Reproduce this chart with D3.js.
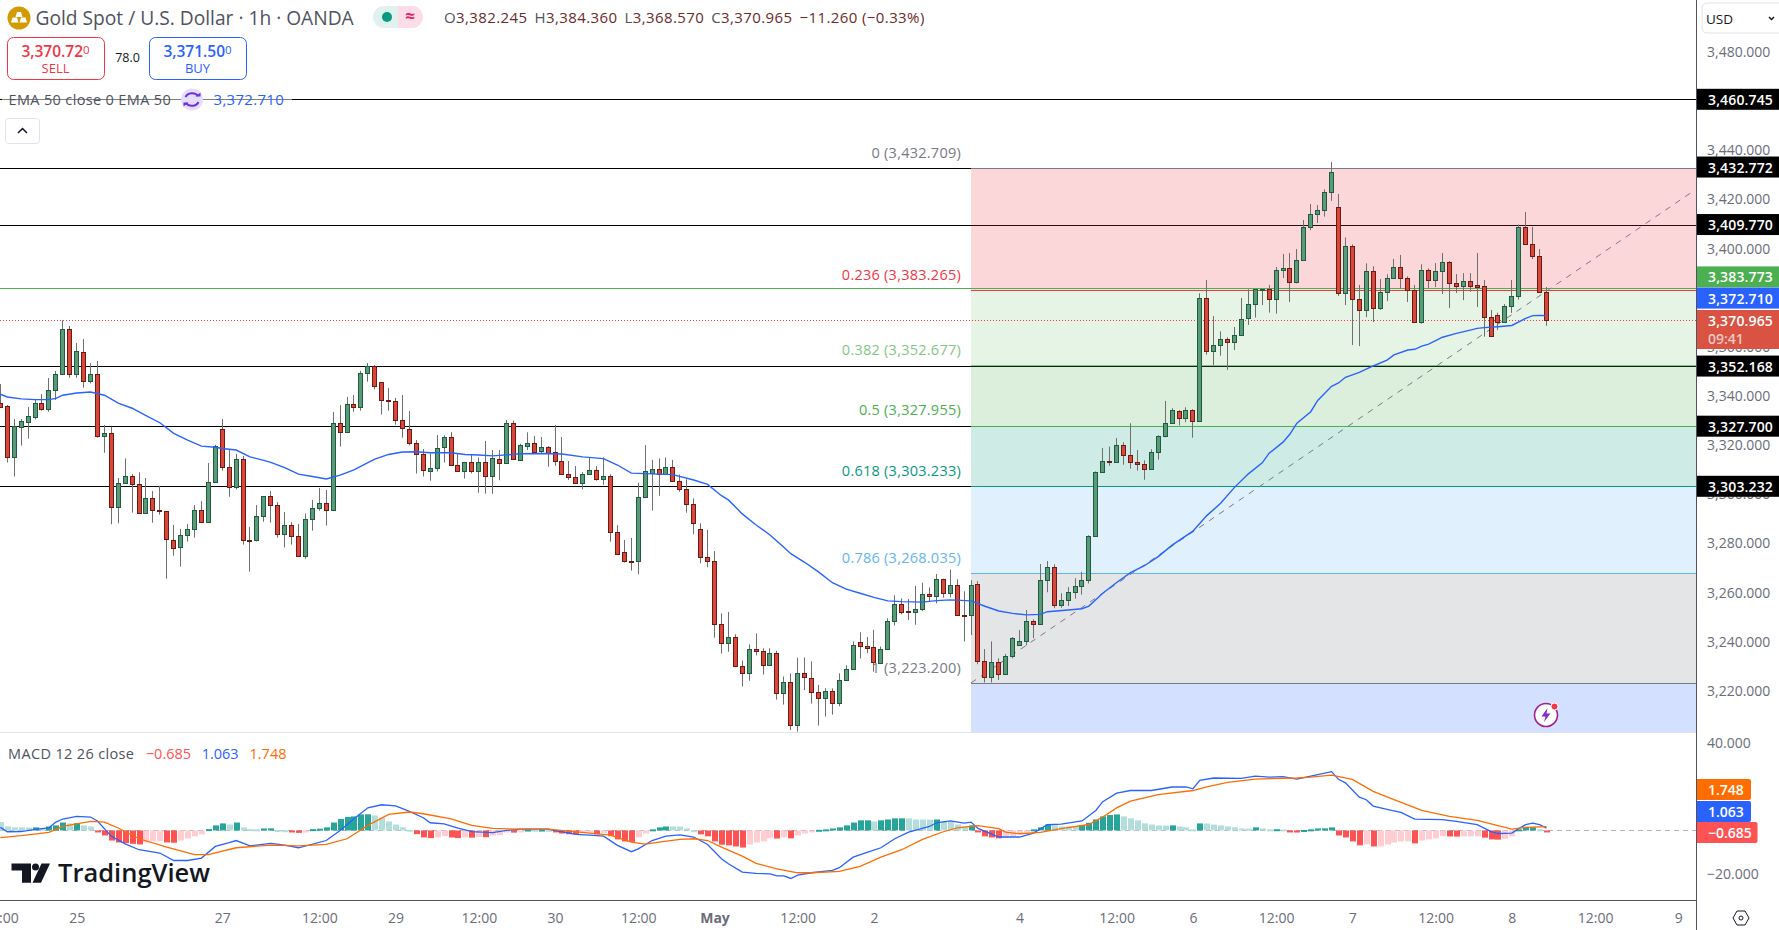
<!DOCTYPE html>
<html>
<head>
<meta charset="utf-8">
<script src="https://cdn.jsdelivr.net/npm/d3@7"></script>
<style>
    html, body { margin: 0; padding: 0; background: #fff; overflow: hidden; }
    svg { display: block; }
    text { font-family: "Open Sans", sans-serif; }
</style>
</head>
<body>
<div id="chart"></div>
<script>
// Values, one entry per hourly candle
const opens = [
    3337.0, 3335.8, 3315.3, 3327.5, 3329.5, 3331.6, 3337.0, 3334.8, 3342.3, 3348.8,
    3367.1, 3348.8, 3357.8, 3346.0, 3348.8, 3323.6, 3324.8, 3294.7, 3304.4, 3307.3,
    3304.0, 3292.2, 3298.3, 3293.5, 3293.1, 3281.2, 3278.4, 3283.3, 3285.7, 3293.5,
    3288.6, 3304.8, 3326.4, 3311.0, 3302.8, 3314.2, 3281.4, 3281.2, 3291.0, 3299.2,
    3295.5, 3283.7, 3287.3, 3282.9, 3274.7, 3289.8, 3294.3, 3296.3, 3293.5, 3328.9,
    3325.2, 3336.6, 3335.4, 3349.2, 3352.1, 3345.6, 3338.4, 3337.8, 3330.1, 3326.4,
    3320.7, 3316.2, 3309.3, 3310.5, 3319.1, 3323.2, 3311.8, 3309.3, 3313.0, 3309.3,
    3313.0, 3307.3, 3314.5, 3312.6, 3328.9, 3314.1, 3319.8, 3320.7, 3317.7, 3319.1,
    3317.1, 3313.4, 3308.1, 3306.9, 3304.7, 3308.1, 3309.7, 3306.1, 3307.3, 3284.5,
    3276.4, 3272.8, 3272.7, 3298.7, 3308.8, 3310.1, 3308.1, 3311.0, 3305.3, 3302.0,
    3295.9, 3285.7, 3274.3, 3273.0, 3247.1, 3239.3, 3241.8, 3230.0, 3227.1, 3236.9,
    3236.1, 3230.4, 3235.3, 3219.0, 3223.4, 3205.9, 3227.1, 3225.1, 3219.4, 3216.9,
    3219.8, 3214.9, 3224.3, 3228.7, 3239.7, 3238.1, 3237.7, 3231.2, 3236.9, 3248.3,
    3255.2, 3252.4, 3252.2, 3253.2, 3259.3, 3258.5, 3265.4, 3259.7, 3262.9, 3250.9,
    3250.7, 3263.3, 3232.0, 3225.5, 3231.6, 3226.7, 3234.0, 3238.5, 3240.1, 3248.3,
    3247.1, 3265.0, 3270.3, 3254.8, 3256.8, 3260.1, 3262.5, 3265.0, 3282.9, 3308.9,
    3313.5, 3313.0, 3319.9, 3315.8, 3313.0, 3312.2, 3310.1, 3317.1, 3323.6, 3328.9,
    3333.7, 3330.9, 3334.2, 3329.7, 3379.7, 3358.4, 3360.6, 3363.0, 3362.1, 3364.7,
    3371.6, 3377.3, 3383.3, 3383.4, 3379.3, 3391.1, 3391.9, 3386.2, 3395.2, 3408.6,
    3413.9, 3415.5, 3422.9, 3416.8, 3381.8, 3400.9, 3379.3, 3374.8, 3390.7, 3375.7,
    3382.2, 3387.9, 3392.3, 3387.9, 3383.0, 3370.0, 3391.1, 3387.1, 3390.7, 3394.4,
    3385.8, 3384.9, 3386.6, 3385.0, 3384.6, 3372.0, 3372.8, 3370.0, 3376.5, 3380.5,
    3408.6, 3402.0, 3396.8, 3382.245];
const highs = [
    3344.9, 3336.3, 3330.6, 3330.6, 3335.5, 3338.4, 3340.8, 3347.3, 3350.2, 3370.8,
    3368.5, 3361.6, 3363.2, 3353.3, 3354.2, 3328.2, 3327.5, 3306.6, 3314.6, 3308.2,
    3308.9, 3306.6, 3301.3, 3303.4, 3293.1, 3287.5, 3285.9, 3287.9, 3295.6, 3297.2,
    3312.7, 3320.1, 3330.6, 3318.0, 3316.4, 3315.6, 3286.7, 3295.6, 3299.2, 3301.3,
    3296.8, 3292.8, 3288.6, 3287.9, 3292.2, 3297.7, 3302.6, 3301.7, 3333.5, 3336.3,
    3339.6, 3340.4, 3350.2, 3353.4, 3352.6, 3345.6, 3343.2, 3339.2, 3340.4, 3333.9,
    3322.1, 3318.4, 3316.7, 3324.1, 3324.0, 3325.3, 3316.7, 3313.0, 3316.2, 3315.0,
    3321.7, 3318.0, 3318.0, 3330.2, 3330.0, 3320.5, 3325.2, 3323.7, 3323.3, 3319.6,
    3328.2, 3323.3, 3313.5, 3311.5, 3309.0, 3315.0, 3311.5, 3315.0, 3308.1, 3287.4,
    3281.4, 3282.2, 3304.7, 3320.0, 3314.0, 3314.6, 3315.0, 3314.0, 3308.0, 3306.1,
    3298.3, 3288.2, 3285.5, 3276.9, 3251.5, 3252.1, 3243.0, 3232.3, 3238.9, 3243.4,
    3237.3, 3237.3, 3236.3, 3225.8, 3227.1, 3233.5, 3233.6, 3232.0, 3222.4, 3221.0,
    3221.0, 3227.1, 3230.4, 3240.1, 3243.8, 3241.9, 3244.8, 3238.0, 3249.5, 3258.9,
    3257.6, 3257.4, 3262.7, 3264.0, 3262.1, 3267.5, 3265.6, 3269.4, 3265.4, 3260.5,
    3265.0, 3264.6, 3237.0, 3240.1, 3233.2, 3235.0, 3241.9, 3244.7, 3252.9, 3249.1,
    3271.6, 3272.8, 3271.5, 3259.7, 3262.2, 3265.8, 3268.4, 3283.3, 3309.3, 3318.8,
    3319.4, 3322.9, 3321.1, 3328.9, 3318.0, 3313.8, 3318.3, 3324.0, 3338.0, 3335.0,
    3334.2, 3335.4, 3334.6, 3381.8, 3387.2, 3372.5, 3366.3, 3363.9, 3368.1, 3379.9,
    3383.4, 3383.4, 3383.5, 3385.2, 3392.5, 3397.8, 3398.2, 3399.8, 3411.6, 3418.1,
    3417.7, 3424.1, 3435.2, 3422.2, 3404.5, 3401.7, 3385.2, 3394.0, 3392.8, 3387.6,
    3389.5, 3395.8, 3397.4, 3388.7, 3385.2, 3393.6, 3391.9, 3394.1, 3398.2, 3394.9,
    3389.6, 3390.0, 3390.0, 3398.2, 3387.2, 3375.0, 3373.9, 3377.4, 3387.2, 3409.8,
    3414.9, 3408.8, 3399.8, 3384.36];
const lows = [
    3335.6, 3312.9, 3307.2, 3319.8, 3322.6, 3330.5, 3334.0, 3333.6, 3338.4, 3348.8,
    3347.4, 3347.4, 3343.4, 3345.1, 3323.0, 3316.9, 3287.8, 3288.2, 3304.2, 3292.5,
    3292.2, 3292.2, 3288.4, 3291.7, 3265.6, 3275.0, 3270.5, 3280.7, 3282.3, 3288.6,
    3288.6, 3304.8, 3309.6, 3299.0, 3302.0, 3279.5, 3268.5, 3280.8, 3288.8, 3288.4,
    3282.3, 3278.3, 3279.5, 3274.7, 3273.8, 3285.2, 3293.3, 3287.2, 3293.5, 3319.4,
    3325.2, 3333.6, 3334.0, 3345.8, 3342.7, 3332.4, 3334.0, 3328.3, 3323.0, 3319.9,
    3308.4, 3307.2, 3305.5, 3309.3, 3312.9, 3311.8, 3309.3, 3306.4, 3308.5, 3300.6,
    3300.2, 3300.2, 3305.7, 3312.6, 3314.5, 3313.7, 3318.0, 3317.1, 3316.7, 3311.2,
    3311.6, 3308.1, 3305.8, 3304.4, 3302.0, 3308.1, 3305.5, 3303.8, 3280.7, 3275.5,
    3272.2, 3268.9, 3267.4, 3298.7, 3293.3, 3299.4, 3307.8, 3305.3, 3301.0, 3292.5,
    3283.7, 3271.9, 3270.3, 3241.6, 3235.1, 3235.9, 3229.6, 3221.7, 3224.1, 3234.4,
    3226.6, 3230.4, 3216.4, 3214.4, 3204.0, 3203.4, 3220.3, 3214.8, 3205.8, 3209.5,
    3210.3, 3213.7, 3224.3, 3228.7, 3233.2, 3235.3, 3227.8, 3231.2, 3236.9, 3246.6,
    3251.1, 3248.8, 3246.9, 3252.4, 3256.3, 3255.6, 3257.9, 3258.0, 3250.7, 3240.1,
    3242.7, 3230.8, 3223.4, 3223.4, 3224.4, 3226.7, 3233.2, 3238.5, 3238.5, 3241.4,
    3247.1, 3260.1, 3253.6, 3253.8, 3254.5, 3257.5, 3259.1, 3263.7, 3282.9, 3308.9,
    3311.6, 3313.0, 3312.0, 3310.4, 3309.6, 3305.9, 3310.1, 3314.1, 3323.2, 3328.9,
    3328.0, 3329.3, 3323.0, 3329.7, 3356.8, 3352.6, 3356.4, 3350.6, 3358.7, 3364.7,
    3368.9, 3371.9, 3377.0, 3373.9, 3373.5, 3388.0, 3378.2, 3385.8, 3395.2, 3407.5,
    3410.4, 3413.0, 3419.4, 3380.7, 3377.0, 3360.7, 3360.3, 3372.1, 3370.1, 3375.0,
    3378.6, 3387.9, 3383.8, 3378.2, 3370.0, 3369.4, 3383.8, 3384.3, 3381.5, 3375.8,
    3381.9, 3379.0, 3382.4, 3376.2, 3364.1, 3364.3, 3366.8, 3370.0, 3373.8, 3379.2,
    3402.0, 3395.7, 3382.2, 3368.57];
const closes = [
    3335.6, 3315.3, 3327.6, 3329.7, 3331.7, 3337.0, 3334.8, 3342.3, 3348.8, 3367.1,
    3348.8, 3358.2, 3346.0, 3348.8, 3323.6, 3324.8, 3294.7, 3304.4, 3307.3, 3304.0,
    3292.2, 3298.3, 3293.5, 3293.1, 3281.7, 3278.0, 3283.3, 3285.7, 3293.5, 3288.6,
    3304.8, 3319.5, 3311.0, 3302.8, 3314.2, 3281.2, 3281.1, 3291.0, 3299.2, 3295.5,
    3283.7, 3287.3, 3282.9, 3274.7, 3289.8, 3294.3, 3296.3, 3293.5, 3328.9, 3325.2,
    3336.6, 3335.4, 3349.2, 3352.1, 3343.9, 3338.2, 3338.1, 3330.1, 3326.8, 3320.7,
    3316.2, 3309.7, 3310.5, 3318.7, 3323.2, 3311.8, 3309.3, 3313.0, 3309.3, 3313.0,
    3307.3, 3314.6, 3312.6, 3328.9, 3314.5, 3319.9, 3320.7, 3317.1, 3319.1, 3316.9,
    3313.4, 3308.1, 3306.9, 3304.7, 3308.1, 3309.7, 3306.1, 3307.3, 3284.5, 3275.8,
    3272.7, 3272.6, 3298.7, 3309.3, 3310.1, 3308.1, 3311.0, 3305.3, 3302.0, 3295.9,
    3288.2, 3274.3, 3273.0, 3247.1, 3239.3, 3241.8, 3230.0, 3227.1, 3236.9, 3236.1,
    3230.4, 3235.3, 3219.0, 3223.4, 3205.9, 3227.1, 3225.5, 3219.4, 3216.9, 3219.8,
    3214.9, 3224.3, 3228.7, 3238.5, 3238.1, 3237.6, 3231.6, 3236.9, 3248.3, 3255.2,
    3252.0, 3252.1, 3253.2, 3259.3, 3258.5, 3265.4, 3259.7, 3262.9, 3250.7, 3250.6,
    3262.9, 3232.0, 3225.5, 3231.6, 3226.9, 3234.0, 3241.4, 3240.1, 3248.3, 3247.1,
    3265.0, 3270.3, 3254.8, 3256.8, 3260.1, 3262.5, 3265.0, 3282.9, 3308.9, 3313.4,
    3313.3, 3319.9, 3315.8, 3313.0, 3312.2, 3310.1, 3317.1, 3323.6, 3328.9, 3334.2,
    3330.9, 3334.2, 3329.7, 3379.7, 3358.4, 3360.6, 3363.0, 3362.1, 3364.7, 3371.2,
    3377.3, 3383.4, 3383.5, 3379.3, 3391.1, 3391.9, 3386.2, 3395.2, 3408.6, 3413.9,
    3415.5, 3422.9, 3431.0, 3381.8, 3400.9, 3379.3, 3374.8, 3390.7, 3375.7, 3382.2,
    3387.9, 3392.3, 3387.9, 3383.0, 3370.0, 3391.1, 3387.1, 3390.7, 3394.4, 3385.8,
    3384.9, 3386.6, 3384.9, 3384.5, 3372.0, 3364.3, 3370.0, 3376.5, 3380.5, 3408.6,
    3402.0, 3396.8, 3382.2, 3370.965];

// EMA 50, read at the candle indexes where the curve bends
const emaIdx = [0, 1, 3, 5, 7, 8, 9, 11, 13, 15, 17, 19, 21, 23, 25, 27, 29, 31, 32, 34, 36, 38, 39, 41, 43, 45, 47, 49, 51, 53, 54, 56, 58, 60, 62, 65, 67, 69, 71,
    72, 75, 78, 81, 84, 87, 89, 91, 93, 97, 100, 102, 104, 105, 107, 109, 111, 113, 114, 116, 118, 120, 122, 124, 126, 128, 130, 133, 135, 137, 140, 142, 144,
    146, 148, 150, 151, 154, 156, 157, 159, 161, 163, 165, 167, 169, 172, 174, 176, 178, 180, 182, 183, 185, 186, 187, 189, 190, 192, 193, 194, 196, 198, 200, 201, 203, 204, 205, 206, 208, 210, 212, 213, 214, 216, 218, 220, 221, 222, 223];
const emaVals = [3340.7, 3339.6, 3338.8, 3338.5, 3338.5, 3339.0, 3340.3, 3341.2, 3341.6, 3340.3, 3337.1, 3335.0, 3332.0, 3329.1, 3324.8, 3322.0, 3319.6, 3319.1, 3318.6, 3318.0, 3315.2, 3313.8, 3313.0, 3310.8, 3308.2, 3307.2, 3306.2, 3307.8, 3309.9, 3312.9, 3314.3, 3316.2, 3317.2, 3317.3, 3316.9, 3316.9, 3316.2, 3316.0, 3315.6,
    3315.8, 3316.5, 3316.6, 3316.4, 3315.2, 3314.5, 3311.9, 3308.6, 3308.4, 3308.0, 3305.8, 3304.0, 3299.4, 3297.7, 3292.0, 3287.5, 3283.4, 3278.4, 3275.8, 3272.3, 3268.4, 3264.0, 3261.4, 3259.7, 3258.0, 3256.6, 3256.3, 3256.1, 3256.7, 3257.0, 3256.6, 3254.4, 3252.5,
    3251.5, 3250.9, 3251.1, 3252.2, 3252.9, 3253.4, 3254.5, 3259.7, 3264.1, 3268.1, 3270.9, 3274.6, 3279.3, 3285.0, 3291.3, 3296.3, 3302.8, 3308.3, 3312.8, 3316.7, 3321.2, 3324.5, 3328.9, 3333.6, 3338.2, 3343.9, 3345.3, 3347.6, 3349.6, 3352.2, 3354.6, 3356.7, 3358.7, 3359.0, 3360.3, 3361.1, 3363.9, 3365.5, 3366.8, 3367.5, 3367.8, 3368.2, 3368.7, 3371.6, 3372.7, 3372.8, 3372.71];

// MACD histogram, one bar per candle
const histVals = [
    3.8, 1.8, 1.4, 1.35, 1.3, 1.4, 1.1, 1.8, 2.3, 3.6,
    3.2, 3.3, 2.3, 1.8, -0.8, -2.3, -4.6, -5.5, -5.8, -6.1,
    -6.4, -5.5, -5.0, -4.9, -5.5, -5.6, -4.6, -3.7, -2.7, -1.8,
    0.6, 2.3, 3.2, 2.7, 3.6, 1.4, 0.6, 0.5, 0.9, 0.95,
    0.2, 0.1, -0.8, -1.1, -0.6, 0.6, 0.8, 1.4, 3.6, 5.2,
    6.1, 6.4, 7.3, 7.35, 6.8, 5.8, 4.1, 2.7, 1.4, 0.3,
    -1.7, -3.2, -3.5, -3.2, -2.6, -3.2, -3.5, -3.2, -3.3, -3.0,
    -3.1, -2.3, -2.2, -0.9, -1.0, -0.4, 0.4, 0.35, 0.4, 0.3,
    -0.9, -1.4, -1.7, -1.8, -1.0, -0.9, -1.8, -1.2, -2.6, -4.1,
    -5.0, -5.2, -3.2, -1.4, 0.5, 1.4, 1.8, 1.79, 1.78, 0.9,
    0.1, -1.8, -2.7, -5.0, -6.5, -6.8, -7.3, -7.8, -6.4, -5.5,
    -5.0, -3.6, -3.7, -3.2, -3.6, -2.3, -1.4, -0.9, 0.3, 0.5,
    0.9, 1.4, 2.3, 3.6, 4.6, 4.61, 4.1, 4.6, 5.0, 5.5,
    5.51, 5.5, 5.0, 4.95, 4.9, 5.0, 4.2, 4.1, 2.7, 1.8,
    2.3, -0.9, -2.7, -3.2, -3.6, -3.2, -2.7, -1.5, -0.9, 0.5,
    1.4, 2.7, 2.3, 1.85, 1.8, 1.75, 2.3, 3.5, 5.0, 6.4,
    7.0, 7.3, 6.4, 5.5, 4.6, 3.2, 2.7, 2.3, 2.25, 2.3,
    1.8, 1.4, 0.5, 3.2, 3.15, 2.7, 2.3, 1.8, 1.4, 0.9,
    0.85, 1.4, 0.9, 0.5, 0.55, 0.45, -0.9, -0.95, 0.2, 0.5,
    0.9, 0.95, 1.4, -2.3, -3.2, -5.0, -6.8, -6.4, -7.3, -7.25,
    -6.4, -5.5, -5.0, -4.95, -5.9, -4.6, -4.1, -3.6, -2.7, -2.75,
    -2.8, -2.75, -2.7, -2.65, -3.3, -4.1, -4.2, -3.8, -2.7, 0.5,
    1.4, 1.45, 0.5, -0.685];

const macdIdx = [0, 1, 3, 5, 7, 8, 9, 11, 13, 14, 16, 18, 20, 23, 25, 27, 29, 31, 33, 34, 36, 39, 41, 43, 47, 49, 51, 53, 55, 57, 59, 61, 62, 64, 66, 68, 71, 73, 75, 79, 81, 83, 85, 87, 89, 91, 92, 94, 96, 98, 100, 102, 104, 105, 107, 109, 111, 112, 113, 114, 115, 117, 120, 121, 123, 125, 127, 129, 131, 134, 135, 137, 139, 140, 141, 144, 147, 149, 151, 153, 156, 158, 159, 161, 163, 166, 169, 171, 172, 173, 175, 179, 181, 183, 185, 187, 189, 192, 193, 194, 196, 197, 198, 200, 202, 204, 208, 210, 213, 215, 216, 218, 219, 220, 221, 222, 223];
const macdVals = [1.4, -0.6, -0.5, 0.5, 1.2, 3.8, 5.2, 6.4, 6.1, 4.3, -2.7, -6.1, -8.8, -10.3, -13.7, -13.7, -12.6, -7.3, -5.6, -4.6, -7.0, -5.9, -6.7, -7.9, -4.6, 0, 5.3, 10.3, 11.7, 11.2, 8.7, 5.8, 3.5, 3.0, 1.1, -0.5, -1.0, 0, 0.6, 0.6, -0.6, -1.8, -2.1, -2.6, -6.8, -9.7, -8.4, -4.6, -2.6, -2.0, -3.0, -6.4, -12.9, -15.2, -19.0, -19.6, -19.8, -20.7, -20.7, -21.9, -20.4, -19.3, -18.2, -17.0, -12.2, -10.0, -7.9, -3.8, -0.8, 1.8, 3.5, 4.4, 3.3, 3.8, 0.9, -3.0, -3.0, -1.2, 2.6, 2.9, 4.3, 9.1, 13.1, 17.0, 18.2, 18.2, 19.8, 19.9, 19.0, 22.8, 23.9, 23.7, 24.8, 24.3, 24.5, 23.4, 24.8, 26.8, 23.3, 21.7, 15.2, 14.0, 11.1, 9.6, 8.2, 5.2, 4.9, 4.1, 2.6, -0.5, -1.4, -1.2, 0.8, 2.6, 3.3, 2.6, 1.063];
const signalIdx = [0, 3, 7, 9, 13, 15, 17, 20, 24, 28, 30, 34, 39, 43, 47, 50, 53, 56, 59, 61, 65, 68, 71, 75, 79, 82, 85, 88, 91, 93, 95, 98, 100, 102, 104, 107, 109, 112, 115, 117, 121, 124, 127, 130, 133, 136, 138, 141, 144, 145, 147, 150, 153, 157, 159, 161, 163, 167, 172, 174, 177, 181, 187, 189, 192, 195, 198, 201, 205, 209, 213, 216, 218, 220, 223];
const signalVals = [-3.3, -2.4, -0.9, 1.8, 4.1, 3.8, 1.1, -3.8, -7.6, -11.0, -11.0, -7.9, -6.7, -7.0, -6.4, -3.8, 2.3, 7.3, 8.4, 7.6, 5.3, 2.3, 0.9, 0.6, 0.6, -0.3, -1.2, -2.1, -5.3, -6.2, -5.3, -4.1, -3.8, -4.6, -7.6, -11.7, -15.0, -17.5, -19.3, -19.3, -18.7, -16.4, -12.2, -8.8, -4.1, -0.6, 1.2, 2.2, 0.8, -0.8, -1.5, -0.9, 0.8, 2.7, 6.1, 10.3, 13.4, 16.3, 18.2, 19.9, 21.9, 23.4, 23.9, 24.3, 25.2, 23.3, 17.8, 14.0, 9.1, 6.4, 4.6, 2.2, 0.6, 1.4, 1.748];

// horizontal rays drawn across the whole chart
const rayLevels = [3460.745, 3432.772, 3409.770, 3352.168, 3327.700, 3303.232];
const greenRay = 3383.773;
const lastPrice = 3370.965;
const lastEma = 3372.710;

// fib retracement
const fibLevels = ['0', '0.236', '0.382', '0.5', '0.618', '0.786', '1'];
const fibPrices = [3432.709, 3383.265, 3352.677, 3327.955, 3303.233, 3268.035, 3223.200];
const fibColors = ['#787b86', '#f23645', '#81c784', '#4caf50', '#089981', '#64b5f6', '#787b86'];
const fibBelowColor = '#2962ff';
const fibStartIdx = 140;
const trendIdx = [140, 244.4];
const trendVals = [3223.2, 3423.8];

const priceTicks = [3480, 3460, 3440, 3420, 3400, 3380, 3360, 3340, 3320, 3300, 3280, 3260, 3240, 3220];
const macdTicks = [40, 20, 0, -20];
const timeIdx = [0, 11, 32, 46, 57, 69, 80, 92, 103, 115, 126, 147, 161, 172, 184, 195, 207, 218, 230, 242];
const timeLabels = ['12:00', '25', '27', '12:00', '29', '12:00', '30', '12:00', 'May', '12:00', '2', '4', '12:00', '6', '12:00', '7', '12:00', '8', '12:00', '9'];

const width = 1779, height = 930;
const axisX = 1696.5, paneBottom = 732, macdBottom = 900;
const FONT = '"Open Sans", sans-serif';

const x = d3.scaleLinear().domain([0, 223]).range([0.4, 1546.5]);
const y = d3.scaleLinear().domain([3460.745, 3303.232]).range([99.3, 486.3]);
const yMacd = d3.scaleLinear().domain([40, -20]).range([742.7, 874.3]);
const crisp = v => Math.round(v) + 0.5;

const svg = d3.select('#chart').append('svg').attr('width', width).attr('height', height);
const defs = svg.append('defs');
defs.append('clipPath').attr('id', 'price-clip').append('rect')
    .attr('x', 0).attr('y', 0).attr('width', axisX).attr('height', paneBottom);
defs.append('clipPath').attr('id', 'macd-clip').append('rect')
    .attr('x', 0).attr('y', paneBottom + 1).attr('width', axisX).attr('height', macdBottom - paneBottom - 1);

let pricePane = svg.append('g').attr('clip-path', 'url(#price-clip)');

// Rays sit below the fib fill
pricePane.append('g').selectAll('line').data(rayLevels).join('line')
    .attr('x1', 0).attr('x2', axisX)
    .attr('y1', d => crisp(y(d))).attr('y2', d => crisp(y(d)))
    .attr('stroke', '#000').attr('stroke-width', 1);

// Fib bands take the colour of their lower level, the last one runs down to the pane bottom
let fibX = x(fibStartIdx);
let bands = pricePane.append('g');
fibPrices.forEach((p, i) => {
    let next = i < fibPrices.length - 1 ? y(fibPrices[i + 1]) : paneBottom;
    bands.append('rect')
        .attr('x', fibX).attr('width', axisX - fibX)
        .attr('y', y(p)).attr('height', next - y(p))
        .attr('fill', i < fibPrices.length - 1 ? fibColors[i + 1] : fibBelowColor)
        .attr('fill-opacity', 0.2);
});
pricePane.append('line')
    .attr('x1', 0).attr('x2', axisX)
    .attr('y1', crisp(y(greenRay))).attr('y2', crisp(y(greenRay)))
    .attr('stroke', '#4caf50');
pricePane.append('g').selectAll('line').data(fibPrices).join('line')
    .attr('x1', fibX).attr('x2', axisX)
    .attr('y1', d => crisp(y(d))).attr('y2', d => crisp(y(d)))
    .attr('stroke', (d, i) => fibColors[i]);

// Fib labels, under the candles
let fmtPrice = d3.format(',.3f');
pricePane.append('g').selectAll('text').data(fibPrices).join('text')
    .attr('x', 961).attr('y', d => y(d) - 14)
    .attr('text-anchor', 'end')
    .attr('dominant-baseline', 'middle')
    .attr('font-size', 14.5)
    .attr('letter-spacing', 0.25)
    .attr('fill', (d, i) => fibColors[i])
    .text((d, i) => `${fibLevels[i]} (${fmtPrice(d)})`);

// Dashed trend line of the fib
let trendData = trendIdx.map((d, i) => [x(d), y(trendVals[i])]);
pricePane.append('path')
    .attr('d', d3.line()(trendData))
    .attr('fill', 'none').attr('stroke', '#787b86')
    .attr('stroke-dasharray', '6 6');

// Last price dotted line
pricePane.append('line')
    .attr('x1', 0).attr('x2', axisX)
    .attr('y1', crisp(y(lastPrice))).attr('y2', crisp(y(lastPrice)))
    .attr('stroke', '#f23645').attr('stroke-dasharray', '1 2');

// Candles
let candles = pricePane.append('g').selectAll('g').data(closes).join('g');
candles.append('line')
    .attr('x1', (d, i) => Math.floor(x(i)) + 0.5).attr('x2', (d, i) => Math.floor(x(i)) + 0.5)
    .attr('y1', (d, i) => y(highs[i])).attr('y2', (d, i) => y(lows[i]))
    .attr('stroke', '#6f6f6f');
candles.append('rect')
    .attr('x', (d, i) => Math.floor(x(i)) - 1.5)
    .attr('width', 4)
    .attr('y', (d, i) => crisp(y(Math.max(d, opens[i]))))
    .attr('height', (d, i) => Math.max(1, crisp(y(Math.min(d, opens[i]))) - crisp(y(Math.max(d, opens[i])))))
    .attr('fill', (d, i) => d >= opens[i] ? '#5b9a78' : '#d8483a')
    .attr('stroke', (d, i) => d >= opens[i] ? '#1d5c3e' : '#6e1a12');

// EMA 50
pricePane.append('path')
    .attr('d', d3.line().x(d => x(d)).y((d, i) => y(emaVals[i]))(emaIdx))
    .attr('fill', 'none').attr('stroke', '#2962ff').attr('stroke-width', 1.4);

// Pane separators
svg.append('line').attr('x1', 0).attr('x2', axisX).attr('y1', paneBottom + 0.5).attr('y2', paneBottom + 0.5).attr('stroke', '#e0e3eb');

// MACD pane
let macdPane = svg.append('g').attr('clip-path', 'url(#macd-clip)');
macdPane.append('line')
    .attr('x1', 0).attr('x2', axisX)
    .attr('y1', crisp(yMacd(0))).attr('y2', crisp(yMacd(0)))
    .attr('stroke', '#b2b5be').attr('stroke-dasharray', '5 4');
let histColor = (d, i) => {
    let rising = i > 0 && d > histVals[i - 1];
    if (d >= 0) return rising ? '#26a69a' : '#b2dfdb';
    return rising ? '#ffcdd2' : '#ff5252';
};
macdPane.append('g').selectAll('rect').data(histVals).join('rect')
    .attr('x', (d, i) => Math.floor(x(i)) - 2.5 + 0.5)
    .attr('width', 6)
    .attr('y', d => d >= 0 ? yMacd(d) : yMacd(0))
    .attr('height', d => Math.max(2, Math.abs(yMacd(d) - yMacd(0))))
    .attr('fill', histColor);
macdPane.append('path')
    .attr('d', d3.line().x(d => x(d)).y((d, i) => yMacd(macdVals[i]))(macdIdx))
    .attr('fill', 'none').attr('stroke', '#2962ff').attr('stroke-width', 1.3);
macdPane.append('path')
    .attr('d', d3.line().x(d => x(d)).y((d, i) => yMacd(signalVals[i]))(signalIdx))
    .attr('fill', 'none').attr('stroke', '#ff6d00').attr('stroke-width', 1.3);

// Axes
let priceAxis = svg.append('g').attr('transform', `translate(${axisX},0)`)
    .call(d3.axisRight(y).tickValues(priceTicks).tickFormat(fmtPrice).tickSize(0).tickPadding(10.5));
let macdAxis = svg.append('g').attr('transform', `translate(${axisX},0)`)
    .call(d3.axisRight(yMacd).tickValues(macdTicks).tickFormat(d => d3.format('.3f')(d).replace('-', '−')).tickSize(0).tickPadding(10.5));
let timeAxis = svg.append('g').attr('transform', `translate(0,${macdBottom})`)
    .call(d3.axisBottom(x).tickValues(timeIdx).tickFormat((d, i) => timeLabels[i]).tickSize(0).tickPadding(13));
[priceAxis, macdAxis, timeAxis].forEach(a => {
    a.select('.domain').remove();
    a.selectAll('text').attr('font-family', FONT).attr('font-size', 14).attr('fill', '#6a6d78');
});
timeAxis.selectAll('text').filter(function () { return d3.select(this).text() === 'May'; }).attr('font-weight', 700);

svg.append('line').attr('x1', 0).attr('x2', axisX).attr('y1', macdBottom + 0.5).attr('y2', macdBottom + 0.5).attr('stroke', '#50535e');
svg.append('line').attr('x1', axisX).attr('x2', axisX).attr('y1', 0).attr('y2', height).attr('stroke', '#50535e');

// Price tags on the right axis, y is the label centre
const tagValues = [3460.745, 3432.772, 3409.770, 3383.773, 3372.710, 3352.168, 3327.700, 3303.232];
const tagFills = ['#000', '#000', '#000', '#4caf50', '#2962ff', '#000', '#000', '#000'];
const tagOffsets = [0, -1, 0, -11.5, -17.5, 0, 0, 0];
let tags = svg.append('g').selectAll('g').data(tagValues).join('g')
    .attr('transform', (d, i) => `translate(${axisX + 0.5},${y(d) + tagOffsets[i]})`);
tags.append('rect').attr('x', 0).attr('y', -10.5).attr('width', 82).attr('height', 21)
    .attr('fill', (d, i) => tagFills[i]);
tags.append('text').attr('x', 11).attr('y', 0).attr('dominant-baseline', 'central')
    .attr('font-size', 14).attr('font-weight', 600).attr('letter-spacing', 0.15).attr('fill', '#fff').text(d => fmtPrice(d));

// Last price tag with countdown
let lastTag = svg.append('g').attr('transform', `translate(${axisX + 0.5},310)`);
lastTag.append('rect').attr('width', 82).attr('height', 39).attr('fill', '#d95242');
lastTag.append('text').attr('x', 11).attr('y', 10.5).attr('dominant-baseline', 'central')
    .attr('font-size', 14).attr('font-weight', 600).attr('letter-spacing', 0.15).attr('fill', '#fff').text(fmtPrice(lastPrice));
lastTag.append('text').attr('x', 11).attr('y', 28.5).attr('dominant-baseline', 'central')
    .attr('font-size', 14).attr('font-weight', 600).attr('fill', '#fff').attr('fill-opacity', 0.7).text('09:41');

// MACD tags
const macdTagVals = [1.748, 1.063, -0.685];
const macdTagFills = ['#ff6d00', '#2962ff', '#ff5252'];
const macdTagY = [789.5, 811.5, 832.5];
const macdTagW = [54, 54, 60.5];
macdTagVals.forEach((v, i) => {
    let g = svg.append('g').attr('transform', `translate(${axisX + 0.5},${macdTagY[i]})`);
    g.append('path')
        .attr('d', `M0,-10.5 H${macdTagW[i] - 2} a2,2 0 0 1 2,2 V8.5 a2,2 0 0 1 -2,2 H0 Z`)
        .attr('fill', macdTagFills[i]);
    g.append('text').attr('x', 11).attr('y', 0).attr('dominant-baseline', 'central')
        .attr('font-size', 14).attr('font-weight', 600).attr('fill', '#fff')
        .text(d3.format('.3f')(v).replace('-', '−'));
});

// Header: symbol line
let logo = svg.append('g').attr('transform', 'translate(19,18)');
logo.append('circle').attr('r', 11.5).attr('fill', '#d49b00');
[[-3.5, -6, 7], [-8, -0.5, 7.5], [0.5, -0.5, 7.5]].forEach(b => {
    logo.append('path')
        .attr('d', `M${b[0] + 1.5},${b[1]} h${b[2] - 3} l1.5,5 h-${b[2]} Z`)
        .attr('fill', '#fff');
});
svg.append('text').attr('x', 35.5).attr('y', 24.5)
    .attr('font-size', 19.2).attr('fill', '#50535e')
    .text('Gold Spot / U.S. Dollar · 1h · OANDA');

let pill = svg.append('g');
pill.append('path').attr('d', 'M398,6 H384 a11,11 0 0 0 0,22 H398 Z').attr('fill', '#dff2ee');
pill.append('path').attr('d', 'M398,6 H412 a11,11 0 0 1 0,22 H398 Z').attr('fill', '#fcdde7');
pill.append('circle').attr('cx', 387).attr('cy', 17).attr('r', 5).attr('fill', '#089981');
pill.append('text').attr('x', 410).attr('y', 22).attr('text-anchor', 'middle')
    .attr('font-size', 17).attr('font-weight', 700).attr('fill', '#e91e63').text('≈');

const ohlcLabels = ['O', 'H', 'L', 'C'];
const ohlcValues = [3382.245, 3384.360, 3368.570, 3370.965];
let ohlc = svg.append('text').attr('x', 444).attr('y', 23).attr('font-size', 15)
    .attr('letter-spacing', 0.4).attr('fill', '#6e2a2a');
ohlcLabels.forEach((l, i) => {
    ohlc.append('tspan').attr('dx', i ? 7 : 0).attr('fill', '#50535e').text(l);
    ohlc.append('tspan').text(fmtPrice(ohlcValues[i]));
});
ohlc.append('tspan').attr('dx', 7).text('−11.260 (−0.33%)');

// Sell / buy buttons
function tradeBox(bx, w, color, price, small, label) {
    let g = svg.append('g');
    g.append('rect').attr('x', bx + 0.5).attr('y', 37.5).attr('width', w).attr('height', 42)
        .attr('rx', 6).attr('fill', '#fff').attr('stroke', color);
    let t = g.append('text').attr('x', bx + w / 2).attr('y', 56.5).attr('text-anchor', 'middle')
        .attr('font-size', 15.5).attr('font-weight', 600).attr('fill', color).text(price);
    t.append('tspan').attr('font-size', 11.5).attr('dy', -3).attr('font-weight', 400).text(small);
    g.append('text').attr('x', bx + w / 2).attr('y', 72.5).attr('text-anchor', 'middle')
        .attr('font-size', 13).attr('fill', color).text(label);
}
tradeBox(7, 97, '#f23645', '3,370.72', '0', 'SELL');
tradeBox(149, 97, '#2962ff', '3,371.50', '0', 'BUY');
svg.append('text').attr('x', 127.5).attr('y', 62).attr('text-anchor', 'middle')
    .attr('font-size', 12.5).attr('fill', '#131722').text('78.0');

// EMA legend over the first ray
svg.append('rect').attr('x', 2).attr('y', 89).attr('width', 290).attr('height', 21)
    .attr('fill', '#fff').attr('fill-opacity', 0.5);
svg.append('text').attr('x', 8.5).attr('y', 104.5)
    .attr('font-size', 14.5).attr('letter-spacing', 0.35).attr('fill', '#50535e').text('EMA 50 close 0 EMA 50');
svg.append('circle').attr('cx', 192).attr('cy', 99.5).attr('r', 11).attr('fill', '#e6dcfb');
svg.append('path').attr('d', 'M185.5,97 a7,6 0 0 1 12.5,-1 M198.5,102 a7,6 0 0 1 -12.5,1')
    .attr('fill', 'none').attr('stroke', '#6a2fe0').attr('stroke-width', 2);
svg.append('path').attr('d', 'M195.5,96.5 l5,0 l0,-4 Z M188.5,102.5 l-5,0 l0,4 Z').attr('fill', '#6a2fe0');
svg.append('text').attr('x', 213.5).attr('y', 104.5)
    .attr('font-size', 15).attr('letter-spacing', 0.3).attr('fill', '#2962ff').text(fmtPrice(lastEma));

// Collapse button
svg.append('rect').attr('x', 5.5).attr('y', 118.5).attr('width', 34).attr('height', 25)
    .attr('rx', 3).attr('fill', '#fff').attr('stroke', '#e0e3eb');
svg.append('path').attr('d', 'M18,133 l4.5,-4.5 l4.5,4.5').attr('fill', 'none').attr('stroke', '#131722').attr('stroke-width', 1.5);

// Currency button
svg.append('rect').attr('x', 1702).attr('y', 3).attr('width', 90).attr('height', 30)
    .attr('rx', 5).attr('fill', '#fff').attr('stroke', '#e0e3eb');
svg.append('text').attr('x', 1706).attr('y', 24).attr('font-size', 13.5).attr('fill', '#131722').text('USD');
svg.append('path').attr('d', 'M1769,17 l2.5,2.5 l2.5,-2.5').attr('fill', 'none').attr('stroke', '#131722').attr('stroke-width', 1.5);

// MACD legend
svg.append('text').attr('x', 8).attr('y', 759).attr('font-size', 14.5).attr('letter-spacing', 0.35).attr('fill', '#50535e').text('MACD 12 26 close');
const macdLegendX = [145.8, 201.7, 249.5];
const macdLegendVals = ['−0.685', '1.063', '1.748'];
const macdLegendColors = ['#ff5252', '#2962ff', '#ff6d00'];
macdLegendVals.forEach((v, i) => {
    svg.append('text').attr('x', macdLegendX[i]).attr('y', 759).attr('font-size', 14.5)
        .attr('fill', macdLegendColors[i]).text(v);
});

// TradingView watermark
let tv = svg.append('g').attr('fill', '#131722');
tv.append('path').attr('d', 'M11.5,863.5 H31 V882.7 H22 V870.5 H11.5 Z');
tv.append('circle').attr('cx', 35.5).attr('cy', 867).attr('r', 3.5);
tv.append('path').attr('d', 'M41.5,863.5 H50 L41,882.7 H32.5 Z');
tv.append('text').attr('x', 58).attr('y', 882).attr('font-family', 'Inter, sans-serif')
    .attr('font-size', 25.5).attr('font-weight', 600).text('TradingView');

// Alert bolt icon
let bolt = svg.append('g').attr('transform', 'translate(1546,715)');
bolt.append('circle').attr('r', 11.5).attr('fill', '#fff').attr('stroke', '#a3218f').attr('stroke-width', 1.6);
bolt.append('path').attr('d', 'M1.5,-7 L-4.5,1.5 H-0.5 L-2,7 L4.5,-1.5 H0.5 Z').attr('fill', '#7b2fd0');
bolt.append('circle').attr('cx', 8.5).attr('cy', -8.5).attr('r', 3.5).attr('fill', '#f23645').attr('stroke', '#fff');

// Settings icon
svg.append('path').attr('d', 'M1733,918 l4,-7 h8 l4,7 l-4,7 h-8 Z').attr('fill', 'none').attr('stroke', '#131722');
svg.append('circle').attr('cx', 1741).attr('cy', 918).attr('r', 2).attr('fill', 'none').attr('stroke', '#131722');
</script>
</body>
</html>
